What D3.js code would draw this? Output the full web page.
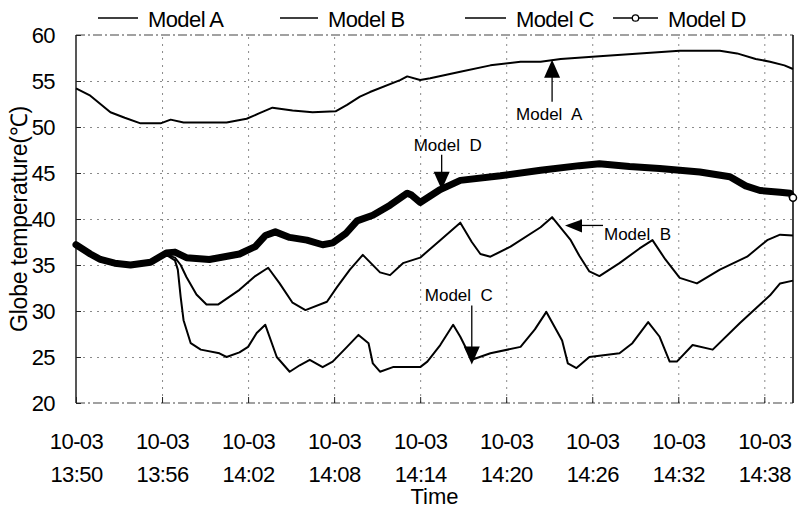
<!DOCTYPE html>
<html><head><meta charset="utf-8">
<script src="https://cdn.jsdelivr.net/npm/d3@7"></script>
<style>
body{margin:0;background:#fff;}
svg{display:block;font-family:"Liberation Sans",Arial,Helvetica,sans-serif;}
</style></head>
<body>
<svg id="chart" width="798" height="509"></svg>
<script>
// ---- data (time in minutes after 10-03 13:50) ----
const tickMinutes = [0, 6, 12, 18, 24, 30, 36, 42, 48];
const tickDates = ["10-03","10-03","10-03","10-03","10-03","10-03","10-03","10-03","10-03"];
const tickTimes = ["13:50","13:56","14:02","14:08","14:14","14:20","14:26","14:32","14:38"];
const yTicks = [20, 25, 30, 35, 40, 45, 50, 55, 60];

const modelATime = [0,1.0,2.4,3.4,4.5,5.9,6.6,7.5,10.5,11.9,12.8,13.7,15.1,16.5,18.1,18.9,19.8,20.5,22.6,23.1,24.0,24.7,26.8,28.9,31.0,32.4,33.8,36.5,39.3,42.1,44.9,46.1,47.4,48.4,49.4,50];
const modelAValue = [54.2,53.4,51.6,51.0,50.4,50.4,50.8,50.5,50.5,50.9,51.5,52.1,51.8,51.6,51.7,52.4,53.3,53.8,55.1,55.5,55.1,55.3,56.0,56.7,57.1,57.1,57.4,57.7,58.0,58.3,58.3,58.0,57.4,57.1,56.7,56.3];

const modelBTime = [0,1.0,1.7,2.7,3.8,5.2,6.3,6.9,7.3,7.7,8.4,9.1,9.9,11.4,12.5,13.4,14.2,15.1,16.0,17.5,18.2,19.1,20.0,21.2,21.9,22.8,24.0,25.4,26.8,27.6,28.2,28.9,30.3,32.4,33.2,34.5,35.1,35.8,36.5,37.9,39.3,40.2,41.1,42.1,43.3,44.9,46.8,48.2,49.1,50];
const modelBValue = [37.2,36.2,35.6,35.2,35.0,35.3,36.1,35.8,35.0,33.7,31.8,30.7,30.7,32.3,33.8,34.7,33.0,30.9,30.1,31.0,32.6,34.5,36.1,34.2,33.9,35.2,35.8,37.7,39.6,37.5,36.2,35.9,37.0,39.1,40.2,37.7,36.0,34.3,33.8,35.2,36.8,37.7,35.6,33.6,33.0,34.5,35.9,37.7,38.3,38.2];

const modelCTime = [0,1.0,1.7,2.7,3.8,5.2,6.3,6.9,7.1,7.3,7.5,8.0,8.7,10.0,10.5,11.4,12.0,12.6,13.2,14.0,14.9,15.6,16.3,17.2,17.9,18.9,19.7,20.4,20.7,21.2,22.1,24.0,24.5,25.4,26.3,26.8,27.6,28.9,31.0,32.0,32.8,33.9,34.3,34.9,35.8,37.9,38.8,39.9,40.7,41.4,41.9,43.0,44.4,46.3,48.4,49.1,50];
const modelCValue = [37.2,36.2,35.6,35.2,35.0,35.3,36.1,35.5,34.5,31.5,29.0,26.5,25.8,25.4,25.0,25.5,26.1,27.6,28.5,25.0,23.4,24.1,24.7,23.9,24.5,26.1,27.4,26.5,24.3,23.4,23.9,23.9,24.5,26.3,28.5,27.2,24.7,25.4,26.1,28.0,29.9,26.8,24.3,23.8,25.0,25.4,26.5,28.8,27.2,24.5,24.5,26.3,25.8,28.7,31.7,33.0,33.3];

const modelDTime = [0,1.0,1.7,2.7,3.8,5.2,6.3,6.9,7.7,9.3,11.4,12.5,13.2,13.9,14.9,16.1,17.2,17.9,18.8,19.6,20.7,21.9,23.1,23.4,24.0,25.4,26.8,29.6,32.4,35.1,36.5,38.6,40.7,43.5,45.6,46.7,47.7,49.1,49.8,50];
const modelDValue = [37.2,36.2,35.6,35.2,35.0,35.3,36.3,36.4,35.8,35.6,36.2,37.0,38.2,38.6,38.0,37.7,37.2,37.4,38.4,39.8,40.4,41.5,42.8,42.6,41.8,43.2,44.2,44.7,45.3,45.8,46.0,45.7,45.5,45.1,44.6,43.6,43.1,42.9,42.8,42.3];

const seriesNames = ["Model A","Model B","Model C","Model D"];
const annotations = [
  {label:"Model  A", t:33.2, v:57.1, dir:"up"},
  {label:"Model  D", t:25.5, v:43.3, dir:"down"},
  {label:"Model  B", t:34.1, v:39.3, dir:"left"},
  {label:"Model  C", t:27.6, v:24.3, dir:"down"}
];

// ---- layout ----
const svg = d3.select("#chart");
const L = 76, R = 793, T = 35, B = 403;
const x = d3.scaleLinear().domain([0, 50]).range([L, R]);
const y = d3.scaleLinear().domain([20, 60]).range([B, T]);

// grid
const gridStyle = g => g.selectAll("line").attr("stroke","#8a8a8a").attr("stroke-width",1).attr("stroke-dasharray","2,5");
svg.append("g").attr("transform",`translate(0,${B})`)
  .call(d3.axisBottom(x).tickValues(tickMinutes.slice(1)).tickSize(-(B-T)).tickFormat(""))
  .call(g=>g.select(".domain").remove()).call(gridStyle);
svg.append("g").attr("transform",`translate(${L},0)`)
  .call(d3.axisLeft(y).tickValues(yTicks.slice(1,-1)).tickSize(-(R-L)).tickFormat(""))
  .call(g=>g.select(".domain").remove()).call(gridStyle);

// frame
svg.append("line").attr("x1",L).attr("x2",R).attr("y1",T).attr("y2",T)
  .attr("stroke","#444").attr("stroke-width",1.2).attr("stroke-dasharray","9,3,2,3");
svg.append("line").attr("x1",L).attr("x2",R).attr("y1",B).attr("y2",B)
  .attr("stroke","#444").attr("stroke-width",1.2).attr("stroke-dasharray","9,3,2,3");
svg.append("line").attr("x1",L).attr("x2",L).attr("y1",T).attr("y2",B).attr("stroke","#111").attr("stroke-width",1.4);
svg.append("line").attr("x1",R).attr("x2",R).attr("y1",T).attr("y2",B).attr("stroke","#111").attr("stroke-width",1.6);

// axes
const xAxis = svg.append("g").attr("transform",`translate(0,${B})`)
  .call(d3.axisBottom(x).tickValues(tickMinutes).tickSizeInner(-6).tickSizeOuter(0).tickPadding(0).tickFormat(""));
xAxis.select(".domain").remove();
xAxis.selectAll(".tick line").attr("stroke","#222");
xAxis.selectAll(".tick").each(function(d,i){
  const t = d3.select(this).append("text").attr("fill","#000").attr("text-anchor","middle")
    .style("font-size","22px").style("letter-spacing","-0.6px");
  t.append("tspan").attr("x",0).attr("y",46).text(tickDates[i]);
  t.append("tspan").attr("x",0).attr("y",79).text(tickTimes[i]);
});
const yAxis = svg.append("g").attr("transform",`translate(${L},0)`)
  .call(d3.axisLeft(y).tickValues(yTicks).tickSizeInner(-5).tickSizeOuter(0).tickPadding(21));
yAxis.select(".domain").remove();
yAxis.selectAll(".tick line").attr("stroke","#222");
yAxis.selectAll(".tick text").attr("fill","#000").style("font-size","22px").style("letter-spacing","-0.6px")
  .attr("font-family","'Liberation Sans',Arial,sans-serif");

// axis titles
svg.append("text").attr("x",(L+R)/2).attr("y",504).attr("text-anchor","middle")
  .style("font-size","22px").text("Time");
svg.append("text").attr("transform",`translate(27,${(T+B)/2}) rotate(-90)`).attr("text-anchor","middle")
  .style("font-size","23px").style("letter-spacing","-0.2px").text("Globe temperature(℃)");

// lines
const line = d3.line().x(d=>x(d[0])).y(d=>y(d[1])).curve(d3.curveLinear);
const zip = (a,b)=>a.map((t,i)=>[t,b[i]]);
const dataA = zip(modelATime, modelAValue), dataB = zip(modelBTime, modelBValue),
      dataC = zip(modelCTime, modelCValue), dataD = zip(modelDTime, modelDValue);
const plot = svg.append("g");
plot.append("path").datum(dataD).attr("d",line).attr("fill","none").attr("stroke","#000")
  .attr("stroke-width",7).attr("stroke-linejoin","round").attr("stroke-linecap","round");
[dataA, dataB, dataC].forEach(d=>{
  plot.append("path").datum(d).attr("d",line).attr("fill","none").attr("stroke","#000")
    .attr("stroke-width",2).attr("stroke-linejoin","round");
});
const last = dataD[dataD.length-1];
plot.append("circle").attr("cx",x(last[0])).attr("cy",y(last[1])).attr("r",3.5)
  .attr("fill","#fff").attr("stroke","#000").attr("stroke-width",1.5);

// legend
const legX = [98, 280, 465, 613], legW = [40, 38, 41, 45];
const leg = svg.append("g");
seriesNames.forEach((n,i)=>{
  leg.append("line").attr("x1",legX[i]).attr("x2",legX[i]+legW[i]).attr("y1",18).attr("y2",18)
    .attr("stroke","#000").attr("stroke-width",1.3);
  if(i===3) leg.append("circle").attr("cx",legX[i]+legW[i]/2).attr("cy",18).attr("r",3.2)
    .attr("fill","#fff").attr("stroke","#000").attr("stroke-width",1.3);
  leg.append("text").attr("x",legX[i]+legW[i]+10).attr("y",27).style("font-size","22px")
    .style("letter-spacing","-0.6px").text(n);
});

// annotations
const ann = svg.append("g");
annotations.forEach(a=>{
  const px = x(a.t), py = y(a.v);
  if(a.dir==="up"){
    ann.append("line").attr("x1",px).attr("x2",px).attr("y1",py+14).attr("y2",py+40).attr("stroke","#000").attr("stroke-width",1.3);
    ann.append("path").attr("d",`M${px},${py-2}L${px-8},${py+16}L${px+8},${py+16}Z`).attr("fill","#000");
    ann.append("text").attr("x",px-36).attr("y",py+58).style("font-size","17px").style("white-space","pre").text(a.label);
  } else if(a.dir==="down"){
    const len = a.label.endsWith("C") ? 58 : 34;
    ann.append("line").attr("x1",px).attr("x2",px).attr("y1",py-len).attr("y2",py-12).attr("stroke","#000").attr("stroke-width",1.3);
    ann.append("path").attr("d",`M${px},${py+1}L${px-8},${py-17}L${px+8},${py-17}Z`).attr("fill","#000");
    const dx = a.label.endsWith("C") ? -47 : -28;
    ann.append("text").attr("x",px+dx).attr("y",py-len-4).style("font-size","17px").style("white-space","pre").text(a.label);
  } else {
    ann.append("line").attr("x1",px+14).attr("x2",px+38).attr("y1",py).attr("y2",py).attr("stroke","#000").attr("stroke-width",1.3);
    ann.append("path").attr("d",`M${px},${py}L${px+17},${py-6}L${px+17},${py+7}Z`).attr("fill","#000");
    ann.append("text").attr("x",px+39).attr("y",py+15).style("font-size","17px").style("white-space","pre").text(a.label);
  }
});
</script>
</body></html>
